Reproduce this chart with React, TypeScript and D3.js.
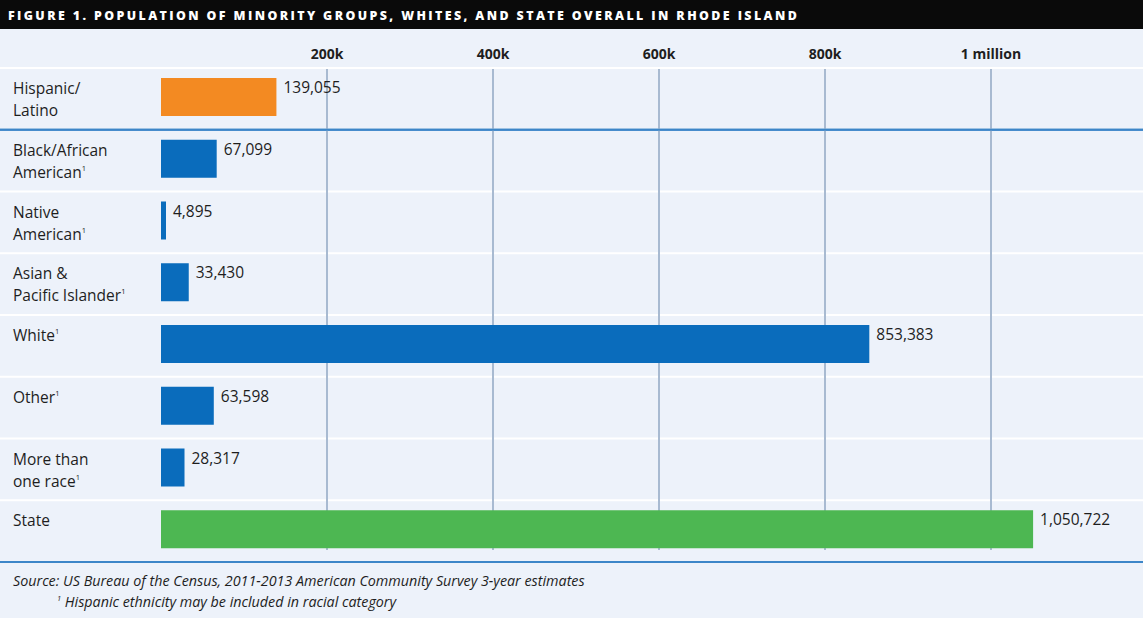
import React from "react";
import * as d3 from "d3";

const categories = ["Hispanic/Latino", "Black/African American", "Native American", "Asian & Pacific Islander", "White", "Other", "More than one race", "State"];
const labelLines: string[][] = [
  ["Hispanic/", "Latino"],
  ["Black/African", "American¹"],
  ["Native", "American¹"],
  ["Asian &", "Pacific Islander¹"],
  ["White¹"],
  ["Other¹"],
  ["More than", "one race¹"],
  ["State"],
];
const values = [139055, 67099, 4895, 33430, 853383, 63598, 28317, 1050722];
const colorGroup = ["hispanic", "minority", "minority", "minority", "minority", "minority", "minority", "state"];
const tickValues = [200000, 400000, 600000, 800000, 1000000];
const tickLabels = ["200k", "400k", "600k", "800k", "1 million"];

const W = 1143;
const H = 618;
const FONT = "'Open Sans', 'Noto Sans', sans-serif";

function renderLine(line: string, key: number, x: number, y: number) {
  const sup = line.endsWith("¹");
  const main = sup ? line.slice(0, -1) : line;
  return (
    <text key={key} x={x} y={y} fontFamily={FONT} fontSize={15.5} fill="#1e1e1e">
      {main}
      {sup && (
        <tspan fontSize={7.5} dy={-7}>1</tspan>
      )}
    </text>
  );
}

export default function App() {
  const x = d3.scaleLinear().domain([0, 1000000]).range([161, 991]);
  const y = d3.scaleBand<string>().domain(categories).range([68, 562]).paddingInner(0);
  const color = d3.scaleOrdinal<string, string>().domain(["hispanic", "minority", "state"]).range(["#f38a22", "#0a6cbc", "#4db752"]);
  const fmt = d3.format(",");

  return (
    <div style={{ position: "absolute", left: 0, top: 0 }}>
      <svg width={W} height={H} style={{ display: "block" }}>
        <rect x={0} y={0} width={W} height={H} fill="#edf2fa" />
        {/* title bar */}
        <rect x={0} y={0} width={W} height={29} fill="#0a0a0a" />
        <text x={8} y={20} fontFamily="'Open Sans', sans-serif" fontWeight={800} fontSize={12.4} letterSpacing={2.4} fill="#ffffff">
          FIGURE 1. POPULATION OF MINORITY GROUPS, WHITES, AND STATE OVERALL IN RHODE ISLAND
        </text>
        {/* header separator */}
        <line x1={0} x2={W} y1={68} y2={68} stroke="#ffffff" strokeWidth={2} />
        {/* row separators */}
        {categories.slice(1).map((c, i) => (
          <line key={c} x1={0} x2={W} y1={y(c)!} y2={y(c)!} stroke={i === 0 ? "#3d86c8" : "#ffffff"} strokeWidth={2} />
        ))}
        {/* gridlines */}
        {tickValues.map((t) => (
          <line key={t} x1={x(t)} x2={x(t)} y1={69} y2={550} stroke="#a8bad1" strokeWidth={2} />
        ))}
        {/* blue line re-drawn over gridlines */}
        <line x1={0} x2={W} y1={y(categories[1])!} y2={y(categories[1])!} stroke="#3d86c8" strokeWidth={2} />
        {/* tick labels */}
        {tickValues.map((t, i) => (
          <text key={t} x={x(t)} y={59} textAnchor="middle" fontFamily={FONT} fontWeight={700} fontSize={14} fill="#1e1e1e">
            {tickLabels[i]}
          </text>
        ))}
        {/* bars */}
        {categories.map((c, i) => {
          const top = y(c)!;
          const w = Math.max(x(values[i]) - x(0), 5);
          return (
            <g key={c}>
              <rect x={x(0)} y={top + 10} width={w} height={38} fill={color(colorGroup[i])} />
              <text x={x(0) + w + 7} y={top + 25} fontFamily={FONT} fontSize={15.5} fill="#1e1e1e">
                {fmt(values[i])}
              </text>
              {labelLines[i].map((ln, j) => renderLine(ln, j, 13, top + 26 + j * 22))}
            </g>
          );
        })}
        {/* bottom line */}
        <line x1={0} x2={W} y1={562} y2={562} stroke="#3d86c8" strokeWidth={2} />
        <text x={13} y={586} fontFamily={FONT} fontStyle="italic" fontSize={14.3} fill="#1e1e1e">
          Source: US Bureau of the Census, 2011-2013 American Community Survey 3-year estimates
        </text>
        <text x={57} y={607} fontFamily={FONT} fontStyle="italic" fontSize={14.3} fill="#1e1e1e">
          <tspan fontSize={7.5} dy={-6}>1</tspan>
          <tspan dy={6}> Hispanic ethnicity may be included in racial category</tspan>
        </text>
      </svg>
    </div>
  );
}
